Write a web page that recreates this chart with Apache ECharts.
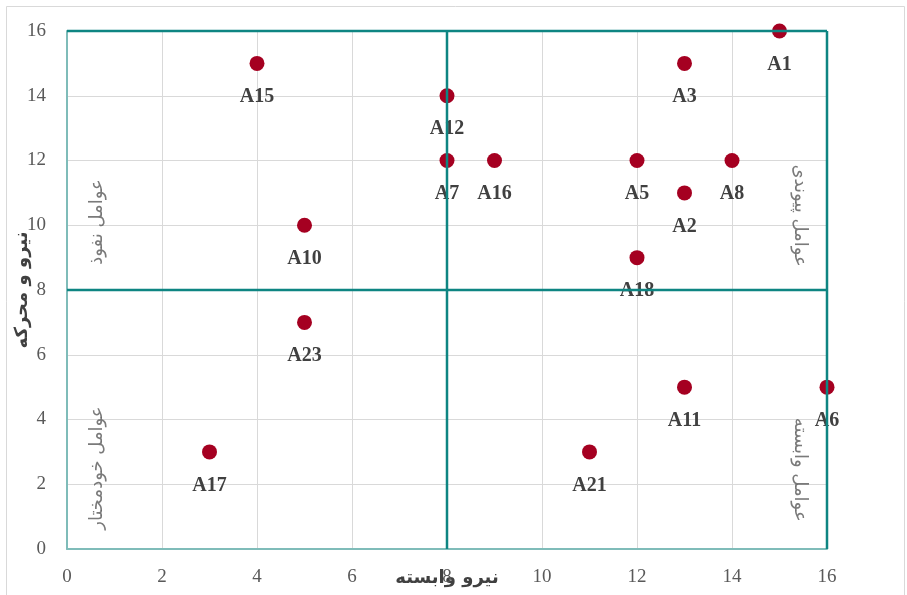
<!DOCTYPE html>
<html><head><meta charset="utf-8">
<script src="https://cdn.jsdelivr.net/npm/echarts@6/dist/echarts.min.js"></script>
<style>html,body{margin:0;padding:0;background:#fff}#c{width:907px;height:595px}</style>
</head><body><div id="c"></div>
<script>
const names = ['A1','A3','A15','A12','A7','A16','A5','A8','A2','A10','A18','A23','A11','A6','A17','A21'];
const xVals = [15,13,4,8,8,9,12,14,13,5,12,5,13,16,3,11];
const yVals = [16,15,15,14,12,12,12,12,11,10,9,7,5,5,3,3];
const xTicks = {min:0,max:16,interval:2};
const yTicks = {min:0,max:16,interval:2};
const xTitle = 'نیرو وابسته';
const yTitle = 'نیرو و محرکه';
const quadNames = ['عوامل نفوذ','عوامل خودمختار','عوامل پیوندی','عوامل وابسته'];
const quadX = [0.63,0.63,15.43,15.43];
const quadY = [10.1,2.5,10.3,2.45];
const quadRot = [90,90,-90,-90];
const dividers = [
  [[0,16],[16,16]],
  [[8,0],[8,16]],
  [[0,8],[16,8]],
  [[16,0],[16,16]]
];

const teal = '#0e8582';
const serif = 'Liberation Serif';
const chart = echarts.init(document.getElementById('c'));
const axisCommon = {
  axisLine:{show:true,lineStyle:{color:'#7fbcb9',width:2}},
  axisTick:{show:false},
  splitLine:{show:true,lineStyle:{color:'#d9d9d9',width:1}},
  axisLabel:{fontFamily:serif,fontSize:19,color:'#595959'},
  nameLocation:'middle',
  nameMoveOverlap:false,
  nameTextStyle:{fontFamily:'DejaVu Sans',fontSize:18,fontWeight:'bold',color:'#404040'}
};
const series = [];
dividers.forEach((d,i)=>{
  series.push({type:'line',data:d,symbol:'none',z:10,silent:true,
    lineStyle:{color:teal,width:2.5,opacity:1},clip:false});
});
series.push({
  type:'scatter',z:5,symbolSize:15,
  itemStyle:{color:'#a50021',opacity:1},
  data:names.map((n,i)=>({value:[xVals[i],yVals[i]],name:n})),
  label:{show:true,position:'bottom',distance:16,formatter:p=>p.name,
    fontFamily:serif,fontSize:20,fontWeight:'bold',color:'#404040'}
});
series.push({
  type:'scatter',z:4,symbolSize:0,silent:true,
  data:quadNames.map((n,i)=>({value:[quadX[i],quadY[i]],name:n,
    label:{rotate:quadRot[i]}})),
  label:{show:true,position:'inside',formatter:p=>p.name,
    fontFamily:'DejaVu Sans',fontSize:18,color:'#595959'}
});
chart.setOption({
  animation:false,
  backgroundColor:'#fff',
  grid:{left:67,right:80,top:31,bottom:46,containLabel:false,outerBoundsMode:'none'},
  xAxis:Object.assign({type:'value',min:xTicks.min,max:xTicks.max,interval:xTicks.interval,
    name:xTitle,nameGap:20},axisCommon,{axisLabel:Object.assign({},axisCommon.axisLabel,{margin:19})}),
  yAxis:Object.assign({type:'value',min:yTicks.min,max:yTicks.max,interval:yTicks.interval,
    name:yTitle,nameGap:36},axisCommon,{axisLabel:Object.assign({},axisCommon.axisLabel,{margin:21})}),
  graphic:[{type:'rect',shape:{x:6.5,y:6.5,width:898,height:600},
    style:{fill:'none',stroke:'#d9d9d9',lineWidth:1},z:-1}],
  series:series
});
</script></body></html>
